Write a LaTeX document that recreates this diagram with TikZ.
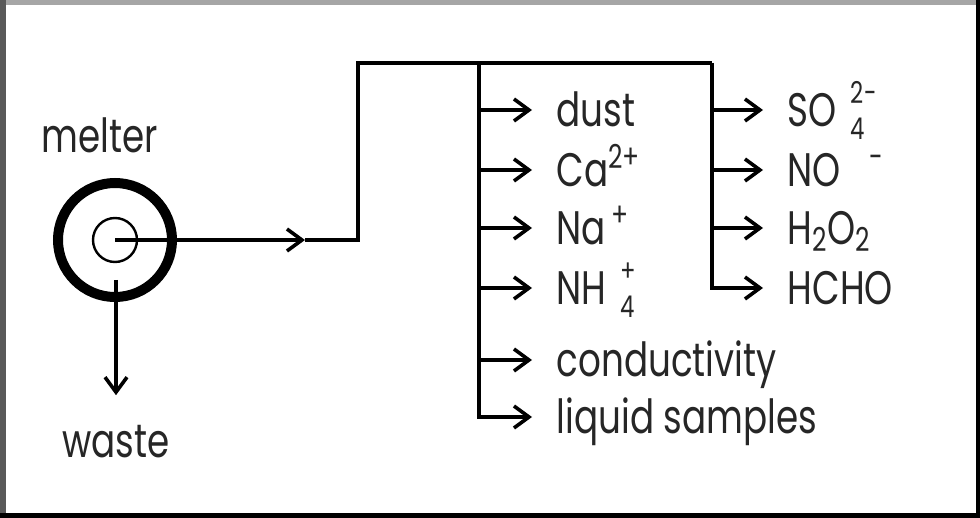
\documentclass[tikz,border=0pt]{standalone}
\usepackage{fontspec}
\setmainfont{Poppins}[FakeStretch=0.76]
\usetikzlibrary{positioning,arrows.meta}
\newcommand\ionsize{\fontsize{15}{15}\selectfont}
\newcommand\stackion[2]{\hspace{0.3em}%
  \rlap{\raisebox{-0.28em}{\ionsize #1}}\raisebox{0.48em}{\ionsize #2}}

\begin{document}
\begin{tikzpicture}[x=0.5pt, y=-0.5pt, line width=1.8pt,
    >={Straight Barb[length=7.5pt, width=11pt]},
    txt/.style={font=\fontsize{23.5}{26}\selectfont, inner sep=0pt,
                text height=16.5pt, text depth=0pt, text=black!85},
    lbl/.style={txt, anchor=west, inner xsep=11.5pt},
    ring/.style={circle, draw, line width=5pt, minimum size=57pt, inner sep=0pt},
    core/.style={circle, draw, line width=1.2pt, minimum size=22pt, inner sep=0pt}]

    % ---- frame
    \useasboundingbox (0,0) rectangle (980,518);
    \fill[white] (0,0) rectangle (980,518);
    \fill[black!35] (0,0) rectangle (980,5);
    \fill[black!65] (0,0) rectangle (6,518);
    \fill[black] (976,0) rectangle (980,518);
    \fill[black] (0,513) rectangle (980,518);

    % ---- melter
    \node[ring] (melt) at (115,240) {};
    \node[core] (core) at (115,240) {};
    \node[txt, anchor=base] (mlab) at (100,153) {melter};
    \coordinate (drain) at (116,280);
    \node[txt, anchor=base, inner ysep=13.5pt] (waste) at (116,457) {waste};
    \draw[->] (drain) -- (waste.north);

    % ---- main line
    \coordinate (mid) at (305,240);
    \coordinate (bend) at (358,240);
    \coordinate (ltop) at (479,63);
    \coordinate (rtop) at (712,63);
    \draw[->] (core.center) -- (mid);
    \draw (mid) -- (bend) |- (rtop);

    % ---- left branches
    \foreach \i/\y/\lab in {1/110/{dust}, 2/170/{Ca\textsuperscript{2+}},
        3/228/{Na\textsuperscript{\,+}}, 4/288/{NH\stackion{4}{+}},
        5/360/{conductivity}, 6/417/{liquid samples}}
      \node[lbl] (L\i) at (532,\y) {\lab};
    \draw[->] (ltop) |- (L6.west);
    \foreach \i in {1,...,5} \draw[->] (ltop |- L\i.west) -- (L\i.west);

    % ---- right branches
    \foreach \i/\y/\lab in {1/110/{SO\stackion{4}{2-}}, 2/170/{NO\hspace{0.6em}\textsuperscript{-}},
        3/228/{H\textsubscript{2}O\textsubscript{2}}, 4/288/{HCHO}}
      \node[lbl] (R\i) at (763,\y) {\lab};
    \draw[->] (rtop) |- (R4.west);
    \foreach \i in {1,...,3} \draw[->] (rtop |- R\i.west) -- (R\i.west);
  \end{tikzpicture}
\end{document}
